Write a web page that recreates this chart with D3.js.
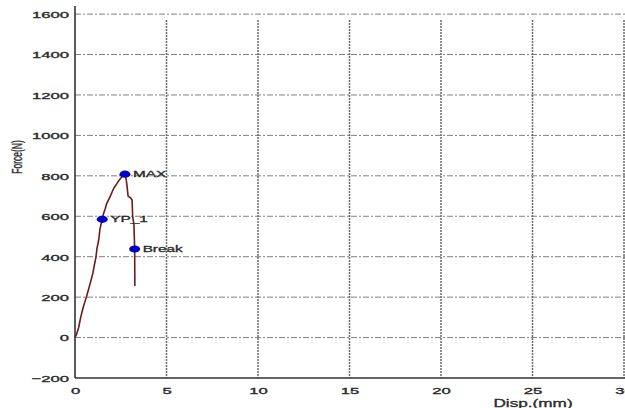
<!DOCTYPE html>
<html>
<head>
<meta charset="utf-8">
<script src="https://cdn.jsdelivr.net/npm/d3@7"></script>
<style>
  html, body { margin: 0; padding: 0; background: #fff; }
  svg { display: block; }
  text { font-family: "Liberation Sans", Arial, sans-serif; fill: #2a2a2a; }
</style>
</head>
<body>
<svg id="chart" width="625" height="408"></svg>
<script>
// Displacement (mm) and force (N) readings of the tensile test
const disp  = [0, 0.08, 0.2, 0.3, 0.42, 0.5, 0.62, 0.7, 0.8, 0.88, 0.98, 1.04, 1.14, 1.2, 1.3, 1.36, 1.49,
               1.55, 1.66, 1.72, 1.85, 1.93, 2.05, 2.13, 2.28, 2.38, 2.52, 2.6, 2.73,
               2.8, 2.85, 2.9, 3.05, 3.12, 3.15, 3.22, 3.26, 3.27];
const force = [0, 15, 50, 95, 140, 165, 200, 225, 258, 285, 320, 350, 395, 440, 485, 535, 585,
               610, 640, 660, 685, 700, 725, 740, 760, 775, 790, 800, 808,
               780, 745, 700, 690, 680, 600, 560, 438, 255];

// Named points on the curve
const markerNames = ["MAX", "YP_1", "Break"];
const markerDisp  = [2.73, 1.49, 3.26];
const markerForce = [808, 585, 438];

// Axis ticks
const xTicks = [0, 5, 10, 15, 20, 25, 30];
const yTicks = [-200, 0, 200, 400, 600, 800, 1000, 1200, 1400, 1600];

const svg = d3.select("#chart");
const SX = 1.75; // horizontal stretch applied to all text

const x = d3.scaleLinear().domain([0, 30]).range([75, 624]);
const y = d3.scaleLinear().domain([-200, 1640]).range([378, 6]);

// Grid lines
const grid = svg.append("g");
grid.selectAll("line.h").data(yTicks.filter(v => v > -200)).join("line")
  .attr("x1", x(0)).attr("x2", 625)
  .attr("y1", d => y(d)).attr("y2", d => y(d))
  .attr("stroke", "#808080").attr("stroke-width", 1)
  .attr("stroke-dasharray", "6,2,2,2");
grid.selectAll("line.v").data(xTicks.filter(v => v > 0)).join("line")
  .attr("x1", d => x(d)).attr("x2", d => x(d))
  .attr("y1", y(1640) + 14).attr("y2", y(-200))
  .attr("stroke", "#6a6a6a").attr("stroke-width", 1.5)
  .attr("stroke-dasharray", "2,1");

// Axes
const yAxis = svg.append("g").attr("transform", `translate(${x(0)},0)`)
  .call(d3.axisLeft(y).tickValues(yTicks).tickSize(0).tickPadding(0).tickFormat(d3.format("d")));
const xAxis = svg.append("g").attr("transform", `translate(0,${y(-200)})`)
  .call(d3.axisBottom(x).tickValues(xTicks).tickSize(0).tickPadding(0).tickFormat(d3.format("d")));

[yAxis, xAxis].forEach(g => {
  g.select(".domain").attr("stroke", "#333").attr("stroke-width", 1.6);
  g.selectAll("text").attr("fill", "#2a2a2a").attr("font-size", 9.5)
    .attr("stroke", "#2a2a2a").attr("stroke-width", 0.35)
    .attr("font-family", "Liberation Sans, Arial, sans-serif");
});
xAxis.select(".domain").attr("d", `M${x(0)},0H625`);
yAxis.select(".domain").attr("d", `M0,${y(1640)}V${y(-200)}`);

yAxis.selectAll("text")
  .attr("x", 0).attr("dy", "0.35em")
  .attr("transform", `translate(-6,0) scale(${SX},1)`);
xAxis.selectAll("text")
  .attr("y", 0).attr("dy", 0)
  .attr("transform", `translate(0,16) scale(${SX},1)`);

// Axis titles
svg.append("text")
  .attr("text-anchor", "middle").attr("font-size", 10)
  .attr("stroke", "#2a2a2a").attr("stroke-width", 0.3)
  .attr("transform", `translate(533,406.5) scale(1.72,1)`)
  .text("Disp.(mm)");
svg.append("text")
  .attr("text-anchor", "middle").attr("font-size", 8.5)
  .attr("stroke", "#2a2a2a").attr("stroke-width", 0.2)
  .attr("transform", `translate(22,157) scale(1.7,1) rotate(-90)`)
  .text("Force(N)");

// Force–displacement curve
const pts = disp.map((d, i) => [d, force[i]]);
svg.append("path")
  .datum(pts)
  .attr("fill", "none")
  .attr("stroke", "#6b1c1c")
  .attr("stroke-width", 1.6)
  .attr("d", d3.line().x(d => x(d[0])).y(d => y(d[1])));

// Markers and their labels
const marks = markerNames.map((n, i) => ({ name: n, d: markerDisp[i], f: markerForce[i] }));
svg.selectAll("ellipse.mk").data(marks).join("ellipse")
  .attr("cx", d => x(d.d)).attr("cy", d => y(d.f))
  .attr("rx", 5.5).attr("ry", 3.6)
  .attr("fill", "#0000c8");
svg.selectAll("text.mk").data(marks).join("text")
  .attr("font-size", 8.5).attr("dy", "0.35em")
  .attr("stroke", "#2a2a2a").attr("stroke-width", 0.3)
  .attr("transform", d => `translate(${x(d.d) + 8},${y(d.f)}) scale(1.8,1)`)
  .text(d => d.name);
</script>
</body>
</html>
